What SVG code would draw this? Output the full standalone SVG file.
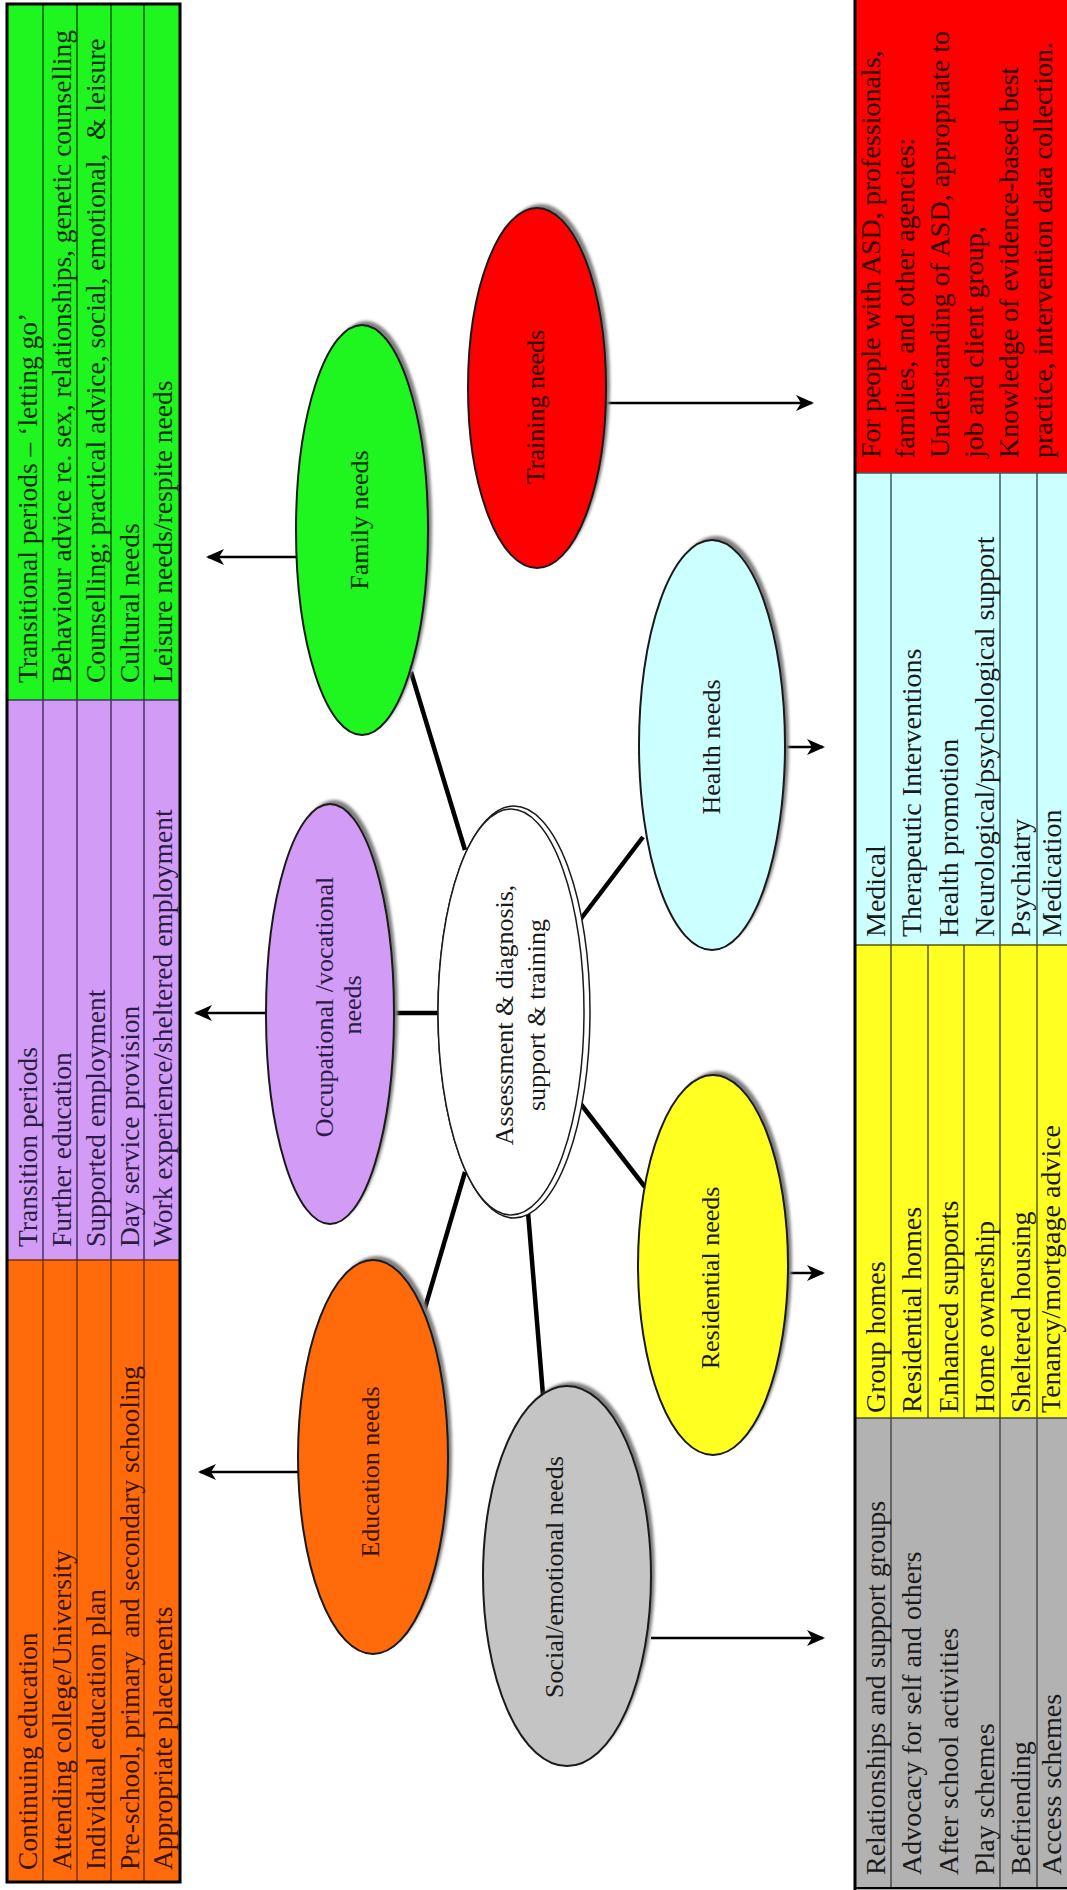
<svg xmlns="http://www.w3.org/2000/svg" width="1067" height="1890" viewBox="0 0 1067 1890">
<style>
.t{font-family:"Liberation Serif","Times New Roman",serif;font-size:27.5px;fill:#1a1a1a}
.tr{font-family:"Liberation Serif","Times New Roman",serif;font-size:28px;fill:#1a1a1a}
.lb{font-family:"Liberation Serif","Times New Roman",serif;font-size:26px;fill:#1a1a1a}
.cl{font-family:"Liberation Serif","Times New Roman",serif;font-size:26px;fill:#1a1a1a}
.node{stroke:#1a1a1a;stroke-width:2}
.sh{fill:#808080;filter:url(#blur)}
.conn{stroke:#000;stroke-width:4.5;fill:none}
.arr{stroke:#000;stroke-width:2.5;fill:none;marker-end:url(#ah)}
</style>
<defs>
<filter id="blur" x="-20%" y="-20%" width="140%" height="140%"><feGaussianBlur stdDeviation="1.5"/></filter>
<marker id="ah" markerUnits="userSpaceOnUse" markerWidth="18" markerHeight="16" refX="16" refY="8" orient="auto"><path d="M0,0 L18,8 L0,16 L5,8 Z" fill="#000"/></marker>
</defs>
<rect width="1067" height="1890" fill="#fff"/>

<g id="left-table">
<rect x="7" y="4" width="173" height="696" fill="#1FF51F"/>
<rect x="7" y="700" width="173" height="560" fill="#D29BF5"/>
<rect x="7" y="1260" width="173" height="622" fill="#FF6A0A"/>
<g stroke="#0b5a0b" stroke-width="1.5"><line x1="43" y1="4" x2="43" y2="700"/><line x1="77" y1="4" x2="77" y2="700"/><line x1="111" y1="4" x2="111" y2="700"/><line x1="144" y1="4" x2="144" y2="700"/></g>
<g stroke="#4a3068" stroke-width="1.5"><line x1="43" y1="700" x2="43" y2="1260"/><line x1="77" y1="700" x2="77" y2="1260"/><line x1="111" y1="700" x2="111" y2="1260"/><line x1="144" y1="700" x2="144" y2="1260"/><line x1="7" y1="700" x2="180" y2="700"/></g>
<g stroke="#7a3200" stroke-width="1.5"><line x1="43" y1="1260" x2="43" y2="1882"/><line x1="77" y1="1260" x2="77" y2="1882"/><line x1="111" y1="1260" x2="111" y2="1882"/><line x1="144" y1="1260" x2="144" y2="1882"/><line x1="7" y1="1260" x2="180" y2="1260"/></g>
<rect x="7" y="4" width="173" height="1878" fill="none" stroke="#000" stroke-width="3"/>
<g class="t" style="fill:#0a2e0a">
<text transform="translate(37,683) rotate(-90)">Transitional periods – ‘letting go’</text>
<text transform="translate(71,683) rotate(-90)">Behaviour advice re. sex, relationships, genetic counselling</text>
<text transform="translate(105,683) rotate(-90)" xml:space="preserve">Counselling; practical advice, social, emotional,  &amp; leisure</text>
<text transform="translate(139,683) rotate(-90)">Cultural needs</text>
<text transform="translate(172,683) rotate(-90)">Leisure needs/respite needs</text>
</g>
<g class="t" style="fill:#2a1c44">
<text transform="translate(37,1247) rotate(-90)">Transition periods</text>
<text transform="translate(71,1247) rotate(-90)">Further education</text>
<text transform="translate(105,1247) rotate(-90)">Supported employment</text>
<text transform="translate(139,1247) rotate(-90)">Day service provision</text>
<text transform="translate(172,1247) rotate(-90)">Work experience/sheltered employment</text>
</g>
<g class="t" style="fill:#3a1400">
<text transform="translate(37,1870) rotate(-90)">Continuing education</text>
<text transform="translate(71,1870) rotate(-90)">Attending college/University</text>
<text transform="translate(105,1870) rotate(-90)">Individual education plan</text>
<text transform="translate(139,1870) rotate(-90)" xml:space="preserve">Pre-school, primary  and secondary schooling</text>
<text transform="translate(172,1870) rotate(-90)">Appropriate placements</text>
</g>
</g>

<g id="right-table">
<rect x="855" y="0" width="212" height="473" fill="#FF0000"/>
<rect x="855" y="473" width="212" height="472" fill="#CCFFFF"/>
<rect x="855" y="945" width="212" height="473" fill="#FFFF22"/>
<rect x="855" y="1418" width="212" height="472" fill="#B2B2B2"/>
<g stroke="#3d5c5c" stroke-width="1.5"><line x1="891" y1="473" x2="891" y2="945"/><line x1="1000" y1="473" x2="1000" y2="945"/><line x1="1037" y1="473" x2="1037" y2="945"/><line x1="855" y1="473" x2="1067" y2="473"/></g>
<g stroke="#5a5a00" stroke-width="1.5"><line x1="891" y1="945" x2="891" y2="1418"/><line x1="928" y1="945" x2="928" y2="1418"/><line x1="964" y1="945" x2="964" y2="1418"/><line x1="1000" y1="945" x2="1000" y2="1418"/><line x1="1037" y1="945" x2="1037" y2="1418"/><line x1="855" y1="945" x2="1067" y2="945"/></g>
<g stroke="#4a4a4a" stroke-width="1.5"><line x1="891" y1="1418" x2="891" y2="1888"/><line x1="1000" y1="1418" x2="1000" y2="1888"/><line x1="1037" y1="1418" x2="1037" y2="1888"/><line x1="855" y1="1418" x2="1067" y2="1418"/></g>
<line x1="855" y1="0" x2="855" y2="1890" stroke="#000" stroke-width="3"/>
<line x1="855" y1="1888" x2="1067" y2="1888" stroke="#000" stroke-width="2"/>
<g class="tr" style="fill:#2a0000">
<text transform="translate(880,458) rotate(-90)">For people with ASD, professionals,</text>
<text transform="translate(914,458) rotate(-90)">families, and other agencies:</text>
<text transform="translate(949,458) rotate(-90)">Understanding of ASD, appropriate to</text>
<text transform="translate(983,458) rotate(-90)">job and client group,</text>
<text transform="translate(1018,458) rotate(-90)">Knowledge of evidence-based best</text>
<text transform="translate(1052,458) rotate(-90)">practice, intervention data collection.</text>
</g>
<g class="tr">
<text transform="translate(885,937) rotate(-90)">Medical</text>
<text transform="translate(921,937) rotate(-90)">Therapeutic Interventions</text>
<text transform="translate(958,937) rotate(-90)">Health promotion</text>
<text transform="translate(994,937) rotate(-90)">Neurological/psychological support</text>
<text transform="translate(1030,937) rotate(-90)">Psychiatry</text>
<text transform="translate(1061,937) rotate(-90)">Medication</text>
</g>
<g class="tr">
<text transform="translate(885,1413) rotate(-90)">Group homes</text>
<text transform="translate(921,1413) rotate(-90)">Residential homes</text>
<text transform="translate(958,1413) rotate(-90)">Enhanced supports</text>
<text transform="translate(994,1413) rotate(-90)">Home ownership</text>
<text transform="translate(1030,1413) rotate(-90)">Sheltered housing</text>
<text transform="translate(1060,1413) rotate(-90)">Tenancy/mortgage advice</text>
</g>
<g class="tr">
<text transform="translate(885,1875) rotate(-90)">Relationships and support groups</text>
<text transform="translate(921,1875) rotate(-90)">Advocacy for self and others</text>
<text transform="translate(958,1875) rotate(-90)">After school activities</text>
<text transform="translate(994,1875) rotate(-90)">Play schemes</text>
<text transform="translate(1030,1875) rotate(-90)">Befriending</text>
<text transform="translate(1061,1875) rotate(-90)">Access schemes</text>
</g>
</g>

<g id="connectors">
<line class="conn" x1="465" y1="850" x2="411" y2="672"/>
<line class="conn" x1="390" y1="1013" x2="438" y2="1013"/>
<line class="conn" x1="465" y1="1172" x2="420" y2="1325"/>
<line class="conn" x1="528" y1="1212" x2="543" y2="1395"/>
<line class="conn" x1="580" y1="920" x2="643" y2="837"/>
<line class="conn" x1="580" y1="1103" x2="645" y2="1187"/>
<line class="arr" x1="297" y1="557" x2="208" y2="557"/>
<line class="arr" x1="267" y1="1013" x2="196" y2="1013"/>
<line class="arr" x1="298" y1="1472" x2="200" y2="1472"/>
<line class="arr" x1="606" y1="403" x2="812" y2="403"/>
<line class="arr" x1="785" y1="747" x2="823" y2="747"/>
<line class="arr" x1="788" y1="1273" x2="823" y2="1273"/>
<line class="arr" x1="651" y1="1638" x2="823" y2="1638"/>
</g>

<g id="family-needs">
<ellipse class="sh" cx="366" cy="526" rx="66" ry="205"/>
<ellipse class="node" cx="362" cy="530" rx="66" ry="205" fill="#1FF51F"/>
<text class="lb" transform="translate(368,520) rotate(-90)" text-anchor="middle" style="fill:#0a2e0a">Family needs</text>
</g>
<g id="training-needs">
<ellipse class="sh" cx="541" cy="384" rx="69" ry="180"/>
<ellipse class="node" cx="537" cy="388" rx="69" ry="180" fill="#FF0000"/>
<text class="lb" transform="translate(544,407) rotate(-90)" text-anchor="middle" style="fill:#2a0000">Training needs</text>
</g>
<g id="occupational-needs">
<ellipse class="sh" cx="334" cy="1010" rx="64" ry="210"/>
<ellipse class="node" cx="330" cy="1014" rx="64" ry="210" fill="#D29BF5"/>
<text class="lb" transform="translate(333,1007) rotate(-90)" text-anchor="middle" style="fill:#2a1c44">Occupational /vocational</text>
<text class="lb" transform="translate(361,1005) rotate(-90)" text-anchor="middle" style="fill:#2a1c44">needs</text>
</g>
<g id="assessment">
<ellipse cx="514" cy="1012" rx="76" ry="206" fill="#fff" stroke="#1a1a1a" stroke-width="1.5"/>
<ellipse cx="511" cy="1012" rx="73" ry="203" fill="#fff" stroke="#1a1a1a" stroke-width="1.5"/>
<text class="cl" transform="translate(513,1015) rotate(-90)" text-anchor="middle">Assessment &amp; diagnosis,</text>
<text class="cl" transform="translate(545,1015) rotate(-90)" text-anchor="middle">support &amp; training</text>
</g>
<g id="health-needs">
<ellipse class="sh" cx="716" cy="741" rx="73" ry="205"/>
<ellipse class="node" cx="712" cy="745" rx="73" ry="205" fill="#CCFFFF"/>
<text class="lb" transform="translate(720,747) rotate(-90)" text-anchor="middle">Health needs</text>
</g>
<g id="residential-needs">
<ellipse class="sh" cx="717" cy="1261" rx="75" ry="190"/>
<ellipse class="node" cx="713" cy="1265" rx="75" ry="190" fill="#FFFF22"/>
<text class="lb" transform="translate(719,1278) rotate(-90)" text-anchor="middle">Residential needs</text>
</g>
<g id="education-needs">
<ellipse class="sh" cx="377" cy="1453" rx="75" ry="197"/>
<ellipse class="node" cx="373" cy="1457" rx="75" ry="197" fill="#FF6A0A"/>
<text class="lb" transform="translate(379,1472) rotate(-90)" text-anchor="middle" style="fill:#3a1400">Education needs</text>
</g>
<g id="social-needs">
<ellipse class="sh" cx="571" cy="1572" rx="84" ry="190"/>
<ellipse class="node" cx="567" cy="1576" rx="84" ry="190" fill="#C4C4C4"/>
<text class="lb" transform="translate(563,1577) rotate(-90)" text-anchor="middle">Social/emotional needs</text>
</g>
</svg>
